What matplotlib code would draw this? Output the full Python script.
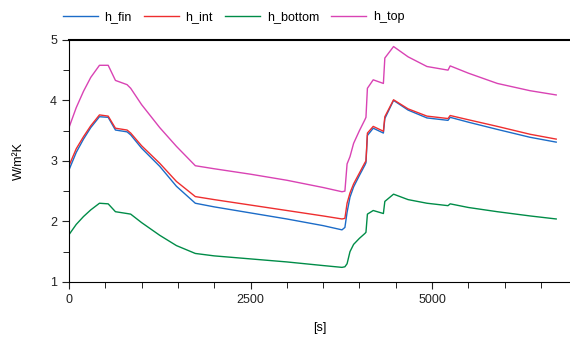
import matplotlib
matplotlib.use('Agg')
import matplotlib.pyplot as plt
from matplotlib.ticker import MultipleLocator

plt.rcParams['font.family'] = ['Liberation Sans', 'DejaVu Sans']

# time [s]
t = [0, 100, 200, 300, 420, 540, 640, 800, 850, 1000, 1250, 1480, 1740, 2000,
     2500, 3000, 3500, 3760, 3800, 3830, 3870, 3920, 4000, 4075, 4090, 4110,
     4190, 4330, 4350, 4470, 4670, 4930, 5220, 5250, 5500, 5900, 6350, 6710]

h_fin = [2.85, 3.14, 3.36, 3.55, 3.73, 3.72, 3.51, 3.48, 3.43, 3.21, 2.91, 2.58, 2.30, 2.24,
         2.14, 2.04, 1.93, 1.86, 1.90, 2.15, 2.40, 2.57, 2.76, 2.93, 2.97, 3.42,
         3.54, 3.46, 3.70, 4.00, 3.84, 3.71, 3.67, 3.72, 3.64, 3.52, 3.39, 3.31]

h_int = [2.92, 3.20, 3.40, 3.58, 3.76, 3.74, 3.54, 3.51, 3.46, 3.25, 2.96, 2.66, 2.41, 2.36,
         2.27, 2.18, 2.09, 2.04, 2.05, 2.30, 2.47, 2.62, 2.80, 2.97, 3.00, 3.46,
         3.57, 3.49, 3.73, 4.01, 3.86, 3.74, 3.70, 3.75, 3.68, 3.57, 3.44, 3.36]

h_bottom = [1.78, 1.95, 2.08, 2.19, 2.30, 2.29, 2.16, 2.13, 2.12, 1.98, 1.77, 1.60, 1.47, 1.43,
            1.38, 1.33, 1.27, 1.24, 1.25, 1.30, 1.50, 1.62, 1.72, 1.80, 1.82, 2.12,
            2.18, 2.13, 2.33, 2.45, 2.36, 2.30, 2.26, 2.29, 2.23, 2.16, 2.09, 2.04]

h_top = [3.55, 3.88, 4.15, 4.38, 4.58, 4.58, 4.33, 4.26, 4.20, 3.93, 3.55, 3.24, 2.92, 2.87,
         2.78, 2.68, 2.56, 2.49, 2.50, 2.95, 3.07, 3.29, 3.50, 3.68, 3.72, 4.20,
         4.34, 4.28, 4.70, 4.89, 4.72, 4.56, 4.50, 4.57, 4.45, 4.28, 4.16, 4.09]

series = [('h_fin', h_fin, '#1c6cc8'),
          ('h_int', h_int, '#ee2e2f'),
          ('h_bottom', h_bottom, '#008c48'),
          ('h_top', h_top, '#d943b4')]

fig = plt.figure(figsize=(5.7, 3.38), dpi=100)
ax = fig.add_axes([0.121, 0.166, 0.879, 0.716])

for name, vals, col in series:
    ax.plot(t, vals, color=col, lw=1.0, label=name)

ax.set_xlim(0, 6900)
ax.set_ylim(1, 5)
ax.xaxis.set_major_locator(MultipleLocator(2500))
ax.xaxis.set_minor_locator(MultipleLocator(500))
ax.yaxis.set_major_locator(MultipleLocator(1))
ax.yaxis.set_minor_locator(MultipleLocator(0.5))
ax.tick_params(which='major', direction='out', length=5, labelsize=9, colors='#222222')
ax.tick_params(which='minor', direction='out', length=4)
ax.spines['right'].set_visible(False)
ax.spines['top'].set_linewidth(1.5)

ax.set_xlabel('[s]', fontsize=9, labelpad=12)
ax.set_ylabel('W/m²K', fontsize=9, labelpad=18)

fig.legend(loc='upper left', bbox_to_anchor=(0.091, 1.0), ncol=4, frameon=False,
           fontsize=9, handlelength=2.8, handletextpad=0.5, columnspacing=1.0)

fig.savefig('out.png', dpi=100)
